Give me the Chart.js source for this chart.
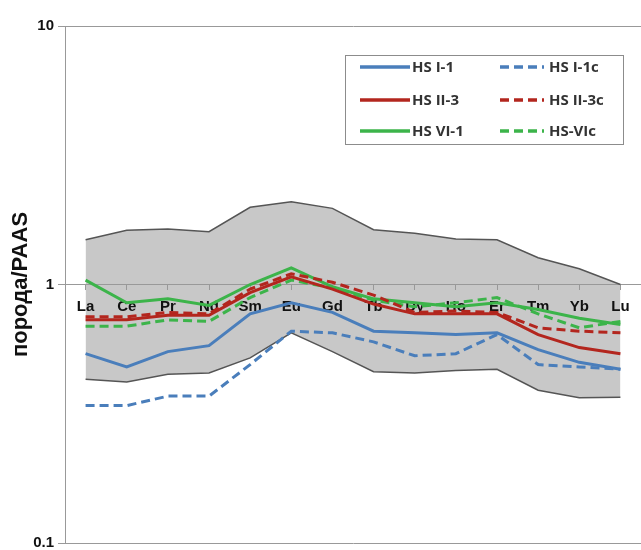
<!DOCTYPE html>
<html lang="ru">
<head>
  <meta charset="UTF-8">
  <title>порода/PAAS</title>
  <script src="https://cdn.jsdelivr.net/npm/chart.js"></script>
  <style>
    body {
      margin: 0;
      background: #fff;
    }
    .wrap {
      width: 641px;
      height: 550px;
    }
  </style>
</head>
<body>

<div class="wrap">
  <canvas id="reeChart" width="641" height="550"></canvas>
</div>

<script>
  // элементы (REE)
  const elements = ['La', 'Ce', 'Pr', 'Nd', 'Sm', 'Eu', 'Gd', 'Tb', 'Dy', 'Ho', 'Er', 'Tm', 'Yb', 'Lu'];
  const yTicks = [0.1, 1, 10];

  // серия
  const hsI1   = [0.54, 0.48, 0.55, 0.58, 0.77, 0.85, 0.78, 0.66, 0.65, 0.64, 0.65, 0.56, 0.50, 0.47];
  const hsI1c  = [0.34, 0.34, 0.37, 0.37, 0.49, 0.66, 0.65, 0.60, 0.53, 0.54, 0.64, 0.49, 0.48, 0.47];
  const hsII3  = [0.73, 0.73, 0.76, 0.76, 0.93, 1.07, 0.96, 0.84, 0.77, 0.77, 0.77, 0.64, 0.57, 0.54];
  const hsII3c = [0.75, 0.75, 0.78, 0.77, 0.96, 1.10, 1.02, 0.91, 0.78, 0.79, 0.78, 0.68, 0.66, 0.65];
  const hsVI1  = [1.04, 0.85, 0.88, 0.83, 1.00, 1.16, 0.98, 0.88, 0.85, 0.82, 0.85, 0.80, 0.74, 0.70];
  const hsVIc  = [0.69, 0.69, 0.73, 0.72, 0.89, 1.04, 0.97, 0.87, 0.82, 0.85, 0.89, 0.77, 0.68, 0.72];

  // серая область (мин/макс)
  const bandTop    = [1.49, 1.62, 1.64, 1.60, 1.99, 2.09, 1.97, 1.63, 1.58, 1.50, 1.49, 1.27, 1.15, 1.00];
  const bandBottom = [0.43, 0.42, 0.45, 0.455, 0.52, 0.65, 0.55, 0.46, 0.455, 0.465, 0.47, 0.39, 0.365, 0.366];

  const BLUE = '#4a7ebb';
  const RED = '#b3261e';
  const GREEN = '#3cb44a';

  function series(label, data, color, dashed) {
    return {
      label: label,
      data: data,
      borderColor: color,
      backgroundColor: color,
      borderWidth: 3,
      borderDash: dashed ? [9, 5] : [],
      pointRadius: 0,
      tension: 0,
      fill: false
    };
  }

  // легенда в рамке, 2 колонки
  const boxLegend = {
    id: 'boxLegend',
    afterDraw(chart) {
      const ctx = chart.ctx;
      const ds = chart.data.datasets.slice(0, 6);
      ctx.save();
      ctx.fillStyle = '#fff';
      ctx.fillRect(345, 55, 278, 89);
      ctx.strokeStyle = '#8c8c8c';
      ctx.lineWidth = 1;
      ctx.strokeRect(345.5, 55.5, 278, 89);
      ctx.font = 'bold 15px "Open Sans", sans-serif';
      ctx.textBaseline = 'middle';
      ctx.fillStyle = '#333';
      const rows = [67, 100, 131];
      ds.forEach((d, i) => {
        const col = i % 2;
        const y = rows[Math.floor(i / 2)];
        const x0 = col ? 500 : 360;
        const x1 = col ? 544 : 410;
        ctx.beginPath();
        ctx.strokeStyle = d.borderColor;
        ctx.lineWidth = 3.5;
        ctx.setLineDash(d.borderDash);
        ctx.moveTo(x0, y);
        ctx.lineTo(x1, y);
        ctx.stroke();
        ctx.setLineDash([]);
        ctx.fillText(d.label, col ? 549 : 412, y + 1);
      });
      ctx.restore();
    }
  };

  const ctx = document.getElementById('reeChart').getContext('2d');

  new Chart(ctx, {
    type: 'line',
    data: {
      labels: elements,
      datasets: [
        series('HS I-1', hsI1, BLUE, false),
        series('HS I-1c', hsI1c, BLUE, true),
        series('HS II-3', hsII3, RED, false),
        series('HS II-3c', hsII3c, RED, true),
        series('HS VI-1', hsVI1, GREEN, false),
        series('HS-VIc', hsVIc, GREEN, true),
        {
          label: 'max',
          data: bandTop,
          borderColor: '#555',
          borderWidth: 1.5,
          pointRadius: 0,
          backgroundColor: '#c8c8c8',
          fill: '+1'
        },
        {
          label: 'min',
          data: bandBottom,
          borderColor: '#555',
          borderWidth: 1.5,
          pointRadius: 0,
          fill: false
        }
      ]
    },
    options: {
      responsive: false,
      animation: false,
      layout: {
        padding: { top: 26, bottom: 7, left: 0, right: 0 }
      },
      plugins: {
        legend: { display: false },
        tooltip: { enabled: false },
        filler: { drawTime: 'beforeDraw' }
      },
      scales: {
        x: {
          type: 'category',
          position: { y: 1 },
          offset: true,
          grid: {
            drawOnChartArea: false,
            drawTicks: true,
            tickLength: 5,
            color: '#999'
          },
          border: { display: true, color: '#999' },
          ticks: {
            color: '#111',
            padding: 8,
            maxRotation: 0,
            autoSkip: false,
            font: { family: 'Arial, "Liberation Sans", sans-serif', size: 15, weight: 'bold' }
          }
        },
        y: {
          type: 'logarithmic',
          min: 0.1,
          max: 10,
          afterBuildTicks: scale => {
            scale.ticks = yTicks.map(v => ({ value: v }));
          },
          afterFit: scale => {
            scale.width = 65;
            scale.paddingTop = 0;
            scale.paddingBottom = 0;
          },
          grid: {
            color: '#999',
            tickLength: 7
          },
          border: { display: true, color: '#999' },
          ticks: {
            color: '#111',
            padding: 4,
            font: { family: 'Arial, "Liberation Sans", sans-serif', size: 15, weight: 'bold' },
            callback: v => String(v)
          },
          title: {
            display: true,
            text: 'порода/PAAS',
            color: '#111',
            padding: { top: 8, bottom: 0 },
            font: { family: 'Arial, "Liberation Sans", sans-serif', size: 22, weight: 'bold' }
          }
        }
      }
    },
    plugins: [boxLegend]
  });
</script>

</body>
</html>
